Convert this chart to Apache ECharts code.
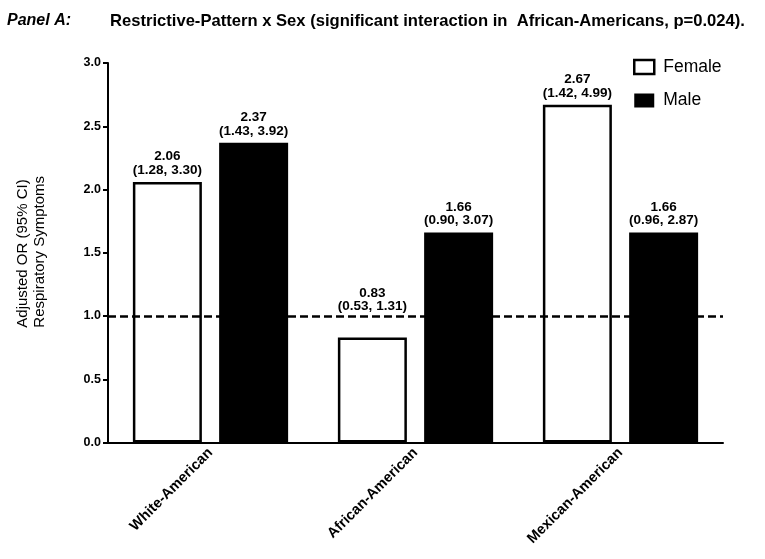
<!DOCTYPE html>
<html>
<head>
<meta charset="utf-8">
<script src="https://cdn.jsdelivr.net/npm/echarts@6/dist/echarts.min.js"></script>
<style>html,body{margin:0;padding:0;background:#fff}#c{width:765px;height:559px}</style>
</head>
<body>
<div id="c"></div>
<script>
const categories = ['White-American', 'African-American', 'Mexican-American'];
const femaleValues = [2.06, 0.83, 2.67];
const maleValues = [2.37, 1.66, 1.66];
const femaleCI = ['(1.28, 3.30)', '(0.53, 1.31)', '(1.42, 4.99)'];
const maleCI = ['(1.43, 3.92)', '(0.90, 3.07)', '(0.96, 2.87)'];
const yTicks = [0, 0.5, 1.0, 1.5, 2.0, 2.5, 3.0];
const referenceLine = 1.0;

const FONT = 'Liberation Sans, Arial, sans-serif';
const chart = echarts.init(document.getElementById('c'));

function labelFor(vals, cis) {
  return {
    show: true,
    position: 'top',
    distance: 5,
    color: '#000',
    fontFamily: FONT,
    fontWeight: 'bold',
    fontSize: 13.5,
    lineHeight: 13.5,
    formatter: p => vals[p.dataIndex].toFixed(2) + '\n' + cis[p.dataIndex]
  };
}

// labels of bars below the reference line are lifted above the dashed line
function barData(vals) {
  return vals.map(v => v < referenceLine ? { value: v, label: { offset: [0, -19] } } : v);
}

chart.setOption({
  animation: false,
  backgroundColor: '#fff',
  title: [
    { text: 'Panel A:', left: 2, top: 8,
      textStyle: { fontFamily: FONT, fontSize: 16, fontWeight: 'bold', fontStyle: 'italic', color: '#000' } },
    { text: 'Restrictive-Pattern x Sex (significant interaction in  African-Americans, p=0.024).', left: 105, top: 8,
      textStyle: { fontFamily: FONT, fontSize: 16.6, fontWeight: 'bold', color: '#000' } }
  ],
  legend: {
    orient: 'vertical',
    left: 628,
    top: 52,
    itemWidth: 20,
    itemHeight: 14,
    itemGap: 13.5,
    icon: 'rect',
    textStyle: { fontFamily: FONT, fontSize: 17.5, lineHeight: 20, color: '#000', padding: [0, 0, 0, 4] },
    data: [
      { name: 'Female', itemStyle: { color: '#fff', borderColor: '#000', borderWidth: 2.5 } },
      { name: 'Male', itemStyle: { color: '#000', borderColor: '#000', borderWidth: 0 } }
    ]
  },
  grid: { left: 108, right: 42, top: 63, bottom: 116.5, containLabel: false },
  xAxis: {
    type: 'category',
    data: categories,
    axisLine: { lineStyle: { color: '#000', width: 2 } },
    axisTick: { alignWithLabel: true, length: 5, lineStyle: { color: '#000', width: 2 } },
    axisLabel: { rotate: 45, interval: 0, margin: 8, color: '#000', fontFamily: FONT, fontWeight: 'bold', fontSize: 14.5 }
  },
  yAxis: {
    type: 'value',
    min: yTicks[0],
    max: yTicks[yTicks.length - 1],
    interval: 0.5,
    axisLine: { show: true, lineStyle: { color: '#000', width: 2 } },
    axisTick: { show: true, length: 5, lineStyle: { color: '#000', width: 2 } },
    splitLine: { show: false },
    axisLabel: { color: '#000', fontFamily: FONT, fontWeight: 'bold', fontSize: 12.5, margin: 7,
      formatter: v => v.toFixed(1) }
  },
  graphic: [{
    type: 'text',
    left: 14,
    top: 176,
    rotation: Math.PI / 2,
    style: {
      text: 'Adjusted OR (95% CI)\nRespiratory Symptoms',
      fontFamily: FONT, fontSize: 15, fill: '#000', align: 'center', lineHeight: 17
    }
  }],
  series: [
    {
      name: 'Female', type: 'bar', data: barData(femaleValues),
      barWidth: 69, barGap: '25%',
      itemStyle: { color: '#fff', borderColor: '#000', borderWidth: 2.5 },
      label: labelFor(femaleValues, femaleCI),
      markLine: {
        silent: true, symbol: 'none',
        label: { show: false },
        lineStyle: { color: '#000', type: [8, 4], width: 2.5 },
        data: [{ yAxis: referenceLine }]
      }
    },
    {
      name: 'Male', type: 'bar', data: barData(maleValues),
      barWidth: 69,
      itemStyle: { color: '#000' },
      label: labelFor(maleValues, maleCI)
    }
  ]
});
</script>
</body>
</html>
